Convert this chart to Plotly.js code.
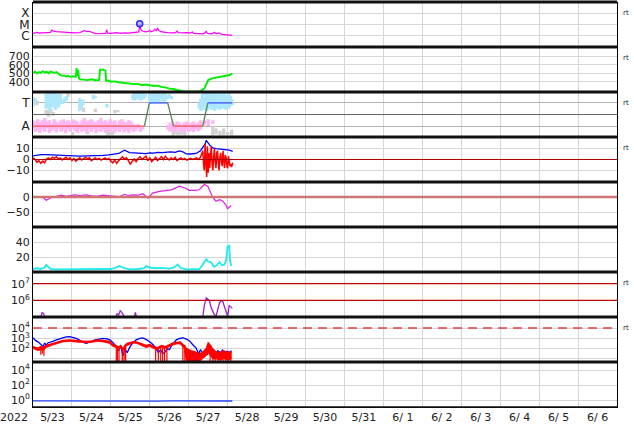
<!DOCTYPE html>
<html><head><meta charset="utf-8">
<script src="https://cdn.plot.ly/plotly-3.0.1.min.js"></script>
<style>html,body{margin:0;padding:0;background:#fff}#chart{width:634px;height:424px}</style>
</head><body><div id="chart"></div>
<script>
// ---------- axis labels ----------
const dayLabels = ["5/23","5/24","5/25","5/26","5/27","5/28","5/29","5/30","5/31","6/ 1","6/ 2","6/ 3","6/ 4","6/ 5","6/ 6"];
const dayLabelPos = [0.5,1.5,2.5,3.5,4.5,5.5,6.5,7.5,8.5,9.5,10.5,11.5,12.5,13.5,14.5];
const yearLabel = "2022";
const rtLabel = "rt";

// ---------- panel 1: X-ray flux ----------
const xrayT = [0,0.05,0.1,0.15,0.25,0.35,0.45,0.48,0.52,0.6,0.75,0.9,1.05,1.2,1.3,1.33,1.37,1.45,1.5,1.6,1.7,1.8,1.87,1.89,1.92,2.0,2.1,2.15,2.25,2.35,2.45,2.55,2.65,2.72,2.74,2.77,2.82,2.9,2.97,2.99,3.03,3.1,3.13,3.17,3.2,3.23,3.28,3.35,3.45,3.55,3.65,3.7,3.73,3.85,3.95,4.05,4.09,4.12,4.25,4.38,4.45,4.48,4.6,4.66,4.7,4.78,4.85,4.95,5.05,5.12];
const xrayFlux = [1.8e-6,1.7e-6,2.0e-6,1.7e-6,1.8e-6,1.8e-6,2.0e-6,3.2e-6,2.6e-6,2.3e-6,2.1e-6,1.9e-6,1.8e-6,1.9e-6,2.4e-6,3.0e-6,2.3e-6,2.5e-6,2.1e-6,1.6e-6,1.5e-6,1.5e-6,1.6e-6,3.4e-6,1.7e-6,1.6e-6,1.7e-6,1.9e-6,1.6e-6,1.8e-6,1.7e-6,1.8e-6,1.9e-6,2.2e-6,1.0e-5,3.5e-6,2.5e-6,2.2e-6,2.5e-6,3.0e-6,2.2e-6,2.8e-6,4.0e-6,2.6e-6,5.0e-6,3.0e-6,2.3e-6,2.0e-6,1.9e-6,1.8e-6,1.8e-6,2.6e-6,1.9e-6,1.8e-6,1.9e-6,1.7e-6,2.2e-6,1.6e-6,1.5e-6,1.5e-6,2.4e-6,1.6e-6,1.5e-6,2.0e-6,1.5e-6,1.8e-6,1.3e-6,1.2e-6,1.1e-6,1.1e-6];
const flareT = [2.74];
const flareFlux = [1.15e-5];
const xrayTickVals = [1e-6,1e-5,1e-4];
const xrayTickText = ["C","M","X"];

// ---------- panel 2: solar wind speed ----------
const spdT = [0,0.05,0.1,0.15,0.2,0.25,0.3,0.35,0.4,0.45,0.5,0.55,0.6,0.65,0.7,0.75,0.8,0.85,0.9,0.95,1.0,1.05,1.1,1.12,1.14,1.16,1.18,1.2,1.3,1.4,1.5,1.6,1.7,1.72,1.8,1.86,1.88,1.95,2.0,2.1,2.2,2.3,2.4,2.5,2.6,2.7,2.8,2.9,3.0,3.1,3.2,3.3,3.4,3.5,3.6,3.7,3.8,3.9,4.0,4.1,4.2,4.3,4.4,4.45,4.5,4.6,4.7,4.8,4.9,5.0,5.05,5.12];
const spdV = [505,520,498,515,505,525,510,518,500,520,512,505,515,495,480,470,475,462,470,458,462,465,460,560,470,540,445,430,425,420,430,418,420,540,545,530,410,415,400,405,395,388,385,380,372,375,360,368,360,350,355,340,335,320,315,300,292,285,282,284,285,290,320,380,420,440,448,455,462,470,480,495];
const spdTicks = [400,500,600,700];

// ---------- panel 3: IMF sector (T / A) ----------
const sectorT = [0,2.86,2.99,3.46,3.61,4.36,4.49,5.12];
const sectorV = [-1,-1,1,1,-1,-1,1,1];
const sectorTickVals = [-1,1];
const sectorTickText = ["A","T"];
const cyanX  = [0.0,0.06,0.34,0.38,0.42,0.46,0.5,0.54,0.58,0.62,0.66,0.7,0.75,0.82,0.86,1.2,1.24,1.28,1.55,1.6,1.9,2.56,2.6,2.64,2.68,2.72,2.76,2.8,2.84,2.88,3.0,3.04,3.08,3.12,3.16,3.2,3.24,3.28,3.32,3.36,3.4,3.44,3.5,3.56,4.27,4.31,4.35,4.39,4.43,4.47,4.51,4.55,4.59,4.63,4.67,4.71,4.75,4.79,4.83,4.87,4.91,4.95,4.99,5.03,5.07,5.11];
const cyanLo = [0.7,1.0,0.5,0.9,0.3,0.8,0.6,1.0,0.4,0.9,0.6,1.1,0.9,1.0,1.2,0.3,0.5,0.8,1.3,1.4,0.6,1.3,1.2,1.4,1.3,1.5,1.2,1.4,1.3,1.5,1.1,0.9,1.2,1.0,1.3,1.1,1.0,1.2,1.3,1.0,1.2,1.3,1.4,1.3,0.5,0.3,0.6,0.4,0.8,0.3,0.5,0.7,0.4,0.6,0.3,0.5,0.7,0.4,0.6,0.5,0.8,0.4,0.6,0.5,0.7,0.8];
const cyanHi = [1.5,1.4,1.8,1.85,1.6,1.85,1.7,1.85,1.5,1.8,1.4,1.8,1.3,1.5,1.6,1.4,1.1,1.3,1.7,1.6,0.9,1.7,1.85,1.85,1.6,1.85,1.7,1.85,1.6,1.8,1.85,1.7,1.85,1.6,1.85,1.7,1.85,1.6,1.85,1.7,1.85,1.6,1.8,1.6,1.0,1.4,1.8,1.85,1.6,1.85,1.7,1.85,1.6,1.85,1.5,1.85,1.7,1.85,1.6,1.8,1.85,1.7,1.5,1.85,1.6,1.3];
const pinkX  = [0.00,0.06,0.12,0.18,0.24,0.30,0.36,0.42,0.48,0.54,0.60,0.66,0.72,0.78,0.84,0.90,0.96,1.02,1.08,1.14,1.20,1.26,1.32,1.38,1.44,1.50,1.56,1.62,1.68,1.74,1.80,1.86,1.92,1.98,2.04,2.10,2.16,2.22,2.28,2.34,2.40,2.46,2.52,2.58,2.64,2.70,2.76,2.82,3.46,3.52,3.58,3.64,3.70,3.76,3.82,3.88,3.94,4.00,4.06,4.12,4.18,4.24,4.30,4.40,4.50,4.62];
const pinkLo = [-1.2,-1.5,-1.4,-1.6,-1.3,-1.5,-1.2,-1.6,-1.4,-1.3,-1.55,-1.2,-1.5,-1.35,-1.6,-1.3,-1.5,-1.2,-1.45,-1.6,-1.3,-1.5,-1.4,-1.6,-1.3,-1.5,-1.25,-1.6,-1.4,-1.5,-1.3,-1.6,-1.4,-1.5,-1.3,-1.6,-1.4,-1.5,-1.3,-1.55,-1.4,-1.6,-1.3,-1.5,-1.4,-1.2,-1.5,-1.3,-1.3,-1.5,-1.4,-1.55,-1.3,-1.5,-1.4,-1.6,-1.3,-1.5,-1.4,-1.5,-1.3,-1.45,-1.3,-0.9,-1.0,-0.8];
const pinkHi = [-0.5,-0.6,-0.4,-0.7,-0.5,-0.3,-0.6,-0.5,-0.8,-0.4,-0.6,-0.7,-0.5,-0.4,-0.6,-0.5,-0.7,-0.4,-0.5,-0.6,-0.8,-0.5,-0.3,-0.6,-0.5,-0.4,-0.6,-0.7,-0.5,-0.3,-0.6,-0.5,-0.7,-0.4,-0.6,-0.5,-0.8,-0.5,-0.4,-0.6,-0.7,-0.5,-0.6,-0.8,-0.9,-0.8,-1.0,-1.0,-0.9,-0.7,-0.6,-0.8,-0.6,-0.7,-0.9,-0.7,-0.6,-0.8,-0.7,-0.6,-0.8,-0.7,-0.5,-0.5,-0.4,-0.5];
const greyX  = [0.10,0.34,0.40,0.46,0.52,0.90,1.02,1.30,1.40,1.60,1.92,1.98,2.04,2.10,2.18,3.60,3.66,3.72,3.80,3.90,4.62,4.70,4.80,4.90,5.00,5.10];
const greyLo = [0.8,0.0,-0.2,0.1,-0.1,1.5,-1.8,0.2,-1.7,0.2,-1.8,-1.7,-1.8,0.1,0.2,-1.8,-1.7,-1.8,-1.75,-1.8,-1.8,-1.7,-1.8,-1.8,-1.75,-1.8];
const greyHi = [1.2,0.4,0.3,0.5,0.2,1.8,-1.5,0.6,-1.4,0.5,-1.1,-1.2,-1.4,0.4,0.4,-1.1,-1.2,-1.4,-1.3,-1.5,-1.0,-1.2,-1.4,-1.2,-1.5,-1.3];

// ---------- panel 4: Bt / Bz ----------
const btT = [0,0.1,0.2,0.34,0.5,0.6,0.77,0.9,1.0,1.2,1.4,1.63,1.8,1.95,2.05,2.2,2.35,2.4,2.48,2.6,2.75,2.9,3.0,3.1,3.2,3.33,3.45,3.55,3.65,3.76,3.85,3.93,4.05,4.19,4.3,4.36,4.42,4.45,4.49,4.53,4.57,4.62,4.7,4.78,4.87,4.95,5.04,5.13];
const btV = [3.3,4.0,4.5,4.5,4.2,4.0,3.9,3.5,3.6,3.0,3.3,3.3,3.8,4.2,4.8,5.5,8.5,7.5,6.3,6.0,5.5,5.4,6.0,5.8,6.5,6.3,6.8,7.0,6.5,7.8,7.0,5.2,5.0,5.5,8.0,11.5,14,17.5,15,13.6,12,10.5,10,9.8,9.4,9.0,8.5,7.5];
const bzT = [0,0.05,0.1,0.15,0.2,0.25,0.3,0.35,0.4,0.45,0.5,0.55,0.6,0.65,0.7,0.75,0.8,0.85,0.9,0.95,1.0,1.05,1.1,1.15,1.2,1.25,1.3,1.35,1.4,1.45,1.5,1.55,1.6,1.65,1.7,1.75,1.8,1.85,1.9,1.95,2.0,2.05,2.1,2.15,2.2,2.25,2.3,2.35,2.4,2.45,2.5,2.55,2.6,2.65,2.7,2.75,2.8,2.85,2.9,2.95,3.0,3.05,3.1,3.15,3.2,3.25,3.3,3.35,3.4,3.45,3.5,3.55,3.6,3.65,3.7,3.75,3.8,3.85,3.9,3.95,4.0,4.05,4.1,4.15,4.2,4.25,4.3,4.33,4.36,4.38,4.4,4.42,4.44,4.46,4.48,4.5,4.52,4.54,4.56,4.58,4.6,4.62,4.64,4.66,4.68,4.7,4.72,4.74,4.76,4.78,4.8,4.82,4.84,4.86,4.88,4.9,4.92,4.94,4.96,4.98,5.0,5.02,5.04,5.06,5.08,5.1,5.13];
const bzV = [1.5,0.5,-2.5,-1.0,-3.5,-1.5,-3.0,0.5,1.5,0.0,2.0,1.0,2.5,0.5,1.5,-0.5,1.0,2.0,0.0,1.5,-1.0,1.0,-1.5,0.5,1.5,-0.5,1.0,2.0,0.5,1.5,-1.0,0.5,1.5,0.0,1.0,-0.5,0.5,1.5,0.0,1.0,-1.5,-3.0,-0.5,-3.5,-1.0,1.0,2.5,0.5,1.5,-1.0,-4.5,-1.5,0.5,-2.0,1.0,2.5,0.0,1.5,3.0,-1.0,1.5,-2.0,0.5,2.0,-1.0,1.0,2.5,0.0,3.0,1.0,-0.5,1.5,0.0,2.0,-1.0,0.5,1.5,0.0,1.0,-0.5,0.5,1.0,0.0,0.5,1.5,0.0,2.0,5.0,8.0,-4.0,-10.0,14.0,-6.0,-16.0,12.0,-12.0,6.0,-8.0,4.0,12.0,-4.0,-10.0,2.0,10.0,-2.0,-8.0,6.0,8.0,-4.0,-10.0,2.0,6.0,-2.0,-6.0,8.0,-3.0,-8.0,4.0,2.0,-6.0,-8.0,3.0,-2.0,-6.0,-4.0,-7.0,-3.0];
const bTicks = [-10,0,10];

// ---------- panel 5: Dst ----------
const dstT = [0,0.25,0.34,0.43,0.5,0.6,0.73,0.86,0.95,1.07,1.2,1.37,1.5,1.63,1.8,1.95,2.05,2.22,2.35,2.45,2.56,2.7,2.82,2.95,3.07,3.25,3.42,3.55,3.63,3.76,3.89,4.02,4.15,4.27,4.35,4.40,4.49,4.55,4.61,4.7,4.79,4.87,4.96,5.0,5.04,5.09];
const dstV = [0,-1,-11,-5,0,2,6,2,4,7,5,7,4,2,6,3,3,1,9,5,7,6,11,-4,13,19,22,24,28,36,31,22,22,24,35,42,36,18,0,-14,-9,-13,-28,-39,-33,-28];
const dstTicks = [-50,0];

// ---------- panel 6: density ----------
const denT = [0,0.1,0.2,0.3,0.34,0.4,0.45,0.55,0.7,0.9,1.1,1.3,1.5,1.7,1.9,2.0,2.14,2.22,2.35,2.5,2.7,2.85,2.91,3.0,3.15,3.3,3.5,3.62,3.72,3.8,3.95,4.1,4.27,4.35,4.45,4.5,4.57,4.65,4.72,4.79,4.85,4.92,4.96,5.0,5.04,5.06,5.09];
const denV = [4,5,4,6,9.3,7,4,3.5,3.5,3.0,3.5,3.2,3.5,3.0,3.5,4,6,8,5,3.5,4,5,8,6,5,5.5,4.5,6,10,5,3.5,3.5,4,9,17,14,13,7,9,13,9,10,16,34,35,16,8];
const denTicks = [20,40];

// ---------- panel 7: electrons ----------
const elecT = [0.2,0.23,0.27,0.3,null,2.12,2.16,2.2,2.24,2.28,2.32,2.36,null,2.6,2.63,2.66,null,2.82,2.85,null,4.36,4.4,4.45,4.49,4.53,4.57,4.61,4.65,4.7,4.74,4.79,4.83,4.87,4.92,4.96,5.0,5.04,5.08,5.12];
const elecV = [9e4,1.8e5,1.7e5,9e4,null,9e4,1.6e5,1.3e5,2.4e5,1.9e5,1.2e5,9e4,null,9e4,1.9e5,9e4,null,9e4,1.1e5,null,1.0e5,5e5,1.4e6,1.1e6,1.0e6,4e5,2.5e5,1.5e5,1.1e5,3e5,7e5,9e5,9.5e5,4e5,2e5,1.1e5,5e5,4.2e5,3.3e5];
const elecTickVals = [1e6,1e7];
const elecTickText = ["10<sup>6</sup>","10<sup>7</sup>"];
const elecLimits = [1e6,1e7];

// ---------- panel 8: protons ----------
const pBlueT = [0,0.06,0.13,0.2,0.26,0.3,0.34,0.38,0.45,0.51,0.6,0.7,0.77,0.85,0.94,1.02,1.11,1.2,1.3,1.37,1.44,1.5,1.6,1.7,1.8,1.9,1.97,2.05,2.14,2.2,2.25,2.31,2.36,2.42,2.48,2.55,2.65,2.74,2.82,2.9,2.99,3.08,3.16,3.22,3.28,3.33,3.4,3.45,3.5,3.58,3.68,3.77,3.85,3.93,4.02,4.1,4.19,4.25,4.3,4.36,4.42,4.48,4.53,4.58,4.64,4.7,4.75,4.81,4.87,4.93,4.98,5.04,5.1];
const pBlueV = [1120,630,450,250,160,355,200,355,400,500,710,1000,1260,1410,1480,1260,1000,630,400,316,450,500,710,890,1000,890,710,400,160,63,200,20,100,40,126,316,710,1000,1120,790,500,250,112,40,79,32,50,100,79,250,710,1000,1120,890,560,250,112,32,79,35,79,25,100,40,79,32,63,40,71,32,56,45,63];
const pRedT  = [0,0.06,0.13,0.2,0.26,0.34,0.45,0.51,0.6,0.77,0.94,1.1,1.2,1.37,1.5,1.65,1.8,1.97,2.05,2.14,2.2,2.25,2.31,2.36,2.42,2.5,2.6,2.7,2.8,2.9,3.0,3.1,3.2,3.3,3.4,3.5,3.6,3.68,3.78,3.88,3.95,4.05,4.15,4.25,4.35,4.45,4.5,4.56,4.62,4.7,4.8,4.9,5.0,5.1];
const pRedHi = [158,126,112,158,126,200,282,316,398,631,708,631,562,501,562,708,631,501,251,200,126,200,100,200,316,398,501,398,282,200,251,158,126,200,158,251,355,398,447,200,100,63,50,32,40,100,355,200,79,50,40,63,40,50];
const pRedLo = [100,79,63,79,63,126,200,224,282,447,501,447,398,355,398,501,447,316,158,126,79,126,63,126,200,251,355,282,200,126,158,100,79,126,100,158,224,282,282,100,4,4,4,4,10,20,40,20,10,10,8,10,8,10];
const spikeT   = [0.2,0.24,0.28,2.14,2.17,2.21,2.29,2.31,2.36,2.38,3.15,3.22,3.28,3.33,3.38,3.44,3.85,3.9,4.55,4.62,4.68,4.75,4.82,4.88,4.95,5.02,5.08];
const spikeTop = [158,126,140,200,160,126,100,100,200,250,150,130,180,200,160,180,250,220,200,79,60,50,45,60,50,45,50];
const spikeBot = [25,32,20,4,4,4,4,4,4,4,4,4,4,4,4,4,4,4,4,4,4,4,4,4,4,4,4];
const protonTickVals = [1e2,1e3,1e4,10];
const protonTickText = ["10<sup>2</sup>","10<sup>3</sup>","10<sup>4</sup>",""];
const protonLimit = [1e4];

// ---------- panel 9 ----------
const p9T = [0,0.4,0.8,1.2,1.6,2.0,2.4,2.8,3.2,3.6,4.0,4.4,4.8,5.12];
const p9V = [0.75,0.73,0.76,0.74,0.75,0.77,0.74,0.75,0.73,0.76,0.74,0.75,0.73,0.74];
const p9TickVals = [1,1e2,1e4];
const p9TickText = ["10<sup>0</sup>","10<sup>2</sup>","10<sup>4</sup>"];

// ================= build =================
const FONT = 'DejaVu Sans';
function streaks(xs, lo, hi){
  const x=[], y=[];
  for(let i=0;i<xs.length;i++){ x.push(xs[i],xs[i],null); y.push(lo[i],hi[i],null); }
  return {x,y};
}
const traces = [];
function ln(x,y,ax,color,w,extra){ return Object.assign({type:'scatter',mode:'lines',x,y,yaxis:ax,xaxis:'x',line:{color,width:w},hoverinfo:'skip',showlegend:false,connectgaps:false},extra||{}); }

// panel 1
traces.push(ln(xrayT,xrayFlux,'y','#ff00ff',1.2));
traces.push({type:'scatter',mode:'markers',x:flareT,y:flareFlux,yaxis:'y',xaxis:'x',marker:{symbol:'circle',size:6,color:'rgba(150,150,255,0.6)',line:{color:'#2a2aff',width:1.5}},hoverinfo:'skip',showlegend:false});
// panel 2
traces.push(ln(spdT,spdV,'y2','#00ee00',1.9));
// panel 3
const sg = streaks(greyX,greyLo,greyHi);
traces.push(ln(sg.x,sg.y,'y3','#d2d2d2',3.4));
const sc = streaks(cyanX,cyanLo,cyanHi);
traces.push(ln(sc.x,sc.y,'y3','#aee6fa',3.4));
const sp = streaks(pinkX,pinkLo,pinkHi);
traces.push(ln(sp.x,sp.y,'y3','#ffb6f2',3.4));
for(let i=0;i<sectorT.length-1;i++){
  const a=sectorV[i], b=sectorV[i+1];
  const col = (a===b) ? (a>0 ? '#4a5cff' : '#f25a5a') : '#5b8a5b';
  traces.push(ln([sectorT[i],sectorT[i+1]],[a,b],'y3',col,1.4));
}
// panel 4
traces.push(ln(btT,btV,'y4','#0000ff',1.3));
traces.push(ln(bzT,bzV,'y4','#ff0000',1.5));
// panel 5
traces.push(ln(dstT,dstV,'y5','#e020e0',1.2));
// panel 6
traces.push(ln(denT,denV,'y6','#20eaea',1.8));
// panel 7
traces.push(ln(elecT,elecV,'y7','#a020c8',1.3));
// panel 8
traces.push(ln(pBlueT,pBlueV,'y8','#0000ff',1.3));
traces.push(ln(pRedT,pRedLo,'y8','#ff0000',0.8));
traces.push(ln(pRedT,pRedHi,'y8','#ff0000',1.4,{fill:'tonexty',fillcolor:'#ff0000'}));
const ss = streaks(spikeT,spikeBot,spikeTop);
traces.push(ln(ss.x,ss.y,'y8','#ff0000',1.2));
// panel 9
traces.push(ln(p9T,p9V,'y9','#2244ff',1.3));

function dom(i){ return [1-(i+1)/9, 1-i/9]; }
const gridC = '#d6d6d6';
function yax(i, extra){
  return Object.assign({domain:dom(i), anchor:'x', showgrid:true, gridcolor:gridC, gridwidth:1, zeroline:false,
    showline:true, linecolor:'#000', linewidth:1, mirror:true, ticks:'', fixedrange:true,
    tickfont:{family:FONT,size:11,color:'#222'}}, extra);
}
const layout = {
  width:634, height:424, margin:{l:33,r:17,t:2,b:17}, paper_bgcolor:'#fff', plot_bgcolor:'#fff',
  showlegend:false,
  xaxis:{range:[0,15], tickmode:'array', tickvals:dayLabelPos, ticktext:dayLabels,
    showgrid:false, minor:{tickmode:'linear', tick0:0, dtick:1, showgrid:true, gridcolor:gridC, gridwidth:1, ticks:''},
    zeroline:false, showline:true, linecolor:'#000', linewidth:1,
    ticks:'', anchor:'y9', fixedrange:true, tickfont:{family:FONT,size:11,color:'#222'}},
  yaxis: yax(0,{type:'log', range:[-7,-3], tickmode:'array', tickvals:xrayTickVals, ticktext:xrayTickText, tickfont:{family:FONT,size:12,color:'#222'}}),
  yaxis2: yax(1,{range:[280,809], tickmode:'array', tickvals:spdTicks}),
  yaxis3: yax(2,{range:[-1.94,1.94], tickmode:'array', tickvals:sectorTickVals, ticktext:sectorTickText, gridcolor:'#b0b0b0', tickfont:{family:FONT,size:12,color:'#222'}}),
  yaxis4: yax(3,{range:[-20.5,20.5], tickmode:'array', tickvals:bTicks}),
  yaxis5: yax(4,{range:[-100,50], tickmode:'array', tickvals:dstTicks}),
  yaxis6: yax(5,{range:[0,60], tickmode:'array', tickvals:denTicks}),
  yaxis7: yax(6,{type:'log', range:[5,7.7], tickmode:'array', tickvals:elecTickVals, ticktext:elecTickText}),
  yaxis8: yax(7,{type:'log', range:[0.7,5.07], tickmode:'array', tickvals:protonTickVals, ticktext:protonTickText}),
  yaxis9: yax(8,{type:'log', range:[-0.93,5.07], tickmode:'array', tickvals:p9TickVals, ticktext:p9TickText}),
  shapes:[], annotations:[]
};
// reference lines (drawn above the grid)
layout.shapes.push({type:'line',xref:'paper',x0:0,x1:1,yref:'y3',y0:0,y1:0,line:{color:'#666',width:1.2},layer:'above'});
layout.shapes.push({type:'line',xref:'paper',x0:0,x1:1,yref:'y4',y0:0,y1:0,line:{color:'#b00000',width:1.2},layer:'above'});
layout.shapes.push({type:'line',xref:'paper',x0:0,x1:1,yref:'y5',y0:0,y1:0,line:{color:'#cf7373',width:2.6},layer:'above'});
elecLimits.forEach(v=>layout.shapes.push({type:'line',xref:'paper',x0:0,x1:1,yref:'y7',y0:v,y1:v,line:{color:'#c00000',width:1.2},layer:'above'}));
protonLimit.forEach(v=>layout.shapes.push({type:'line',xref:'paper',x0:0,x1:1,yref:'y8',y0:v,y1:v,line:{color:'#e04040',width:1.5,dash:'9px,6px'},layer:'above'}));
// panel separators
for(let k=0;k<=9;k++){
  layout.shapes.push({type:'line',xref:'paper',yref:'paper',x0:0,x1:1,y0:k/9,y1:k/9,line:{color:'#111',width:k===0?1.5:3},layer:'above'});
}
// rt labels
[0,1,2,3,6,7].forEach(i=>layout.annotations.push({text:rtLabel,xref:'paper',yref:'paper',x:1,y:1-i/9,xanchor:'left',yanchor:'middle',xshift:4,yshift:-11,showarrow:false,font:{family:FONT,size:7,color:'#222'}}));
layout.annotations.push({text:yearLabel,xref:'paper',yref:'paper',x:0,y:0,xanchor:'right',yanchor:'top',xshift:-3,yshift:-2,showarrow:false,font:{family:FONT,size:11,color:'#222'}});

Plotly.newPlot('chart',traces,layout,{staticPlot:true,displayModeBar:false});
</script></body></html>
